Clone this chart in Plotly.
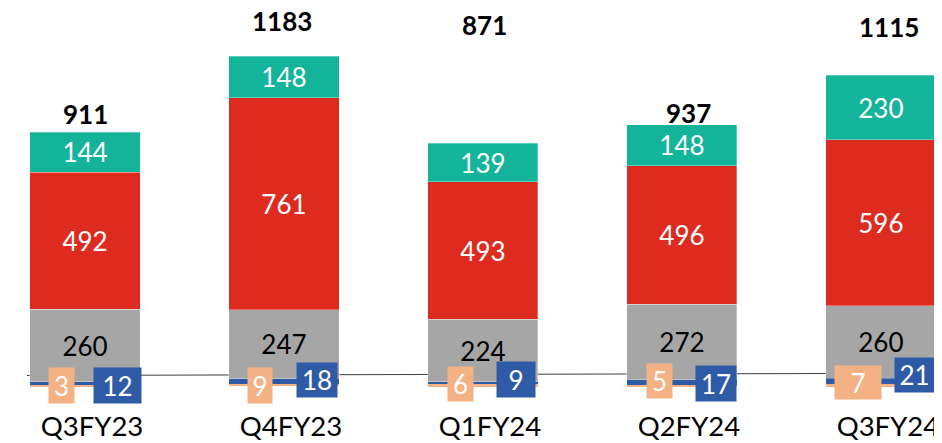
import plotly.graph_objects as go

# ---- data ----
categories = ["Q3FY23", "Q4FY23", "Q1FY24", "Q2FY24", "Q3FY24"]
orange_vals = [3, 9, 6, 5, 7]
blue_vals = [12, 18, 9, 17, 21]
gray_vals = [260, 247, 224, 272, 260]
red_vals = [492, 761, 493, 496, 596]
teal_vals = [144, 148, 139, 148, 230]
total_labels = ["911", "1183", "871", "937", "1115"]

# ---- styling / placement ----
C_ORANGE = "#F4B183"
C_BLUE = "#2E5AA6"
C_GRAY = "#A6A6A6"
C_RED = "#DD2C1F"
C_TEAL = "#14B49B"
FONT = "Lato"
FS = 26

total_label_y = [975, 1310, 1296, 979, 1289]
total_label_xshift = [0, -2, 2, 7, 8]
orange_box_xshift = [-23.5, -23.5, -22, -22, -22.5]
orange_box_yshift = [0.5, 1, 2, 5, 3.5]
orange_box_w = [25, 24, 25, 25, 46]
orange_box_h = [35, 35, 34, 34, 33]
blue_box_xshift = [32.5, 33, 33, 34, 33.5]
blue_box_yshift = [0.5, 6, 6.5, 2.5, 11]
blue_box_w = [47, 40, 38, 40, 39]
blue_box_h = [35, 34, 35, 35, 34]

fig = go.Figure()
line = dict(color="rgba(255,255,255,0.6)", width=0.5)
fig.add_bar(x=categories, y=orange_vals, marker=dict(color=C_ORANGE, line=dict(width=0)), hoverinfo="skip")
fig.add_bar(x=categories, y=blue_vals, marker=dict(color=C_BLUE, line=dict(width=0)), hoverinfo="skip")
fig.add_bar(x=categories, y=gray_vals, marker=dict(color=C_GRAY, line=line),
            text=[str(v) for v in gray_vals], textposition="inside", insidetextanchor="middle",
            textfont=dict(color="black", size=FS, family=FONT), hoverinfo="skip")
fig.add_bar(x=categories, y=red_vals, marker=dict(color=C_RED, line=line),
            text=[str(v) for v in red_vals], textposition="inside", insidetextanchor="middle",
            textfont=dict(color="white", size=FS, family=FONT), hoverinfo="skip")
fig.add_bar(x=categories, y=teal_vals, marker=dict(color=C_TEAL, line=line),
            text=[str(v) for v in teal_vals], textposition="inside", insidetextanchor="middle",
            textfont=dict(color="white", size=FS, family=FONT), hoverinfo="skip")

annotations = []
for i, c in enumerate(categories):
    annotations.append(dict(x=c, y=total_label_y[i], xref="x", yref="y", text="<b>%s</b>" % total_labels[i],
                            showarrow=False, xshift=total_label_xshift[i],
                            font=dict(family=FONT, size=FS, color="black"), yanchor="middle"))
    annotations.append(dict(x=c, y=0, xref="x", yref="y", text=str(orange_vals[i]), showarrow=False,
                            xshift=orange_box_xshift[i], yshift=orange_box_yshift[i],
                            width=orange_box_w[i], height=orange_box_h[i], borderpad=0,
                            bgcolor=C_ORANGE, font=dict(family=FONT, size=FS, color="white"),
                            align="center", valign="middle", yanchor="middle"))
    annotations.append(dict(x=c, y=0, xref="x", yref="y", text=str(blue_vals[i]), showarrow=False,
                            xshift=blue_box_xshift[i], yshift=blue_box_yshift[i],
                            width=blue_box_w[i], height=blue_box_h[i], borderpad=0,
                            bgcolor=C_BLUE, font=dict(family=FONT, size=FS, color="white"),
                            align="center", valign="middle", yanchor="middle"))

# The page places the figure 8px in from the top-left corner, so the figure is
# 8px smaller each way and its ranges start 8px later.
fig.update_layout(
    width=934, height=435,
    margin=dict(l=0, r=0, t=0, b=43),
    barmode="stack",
    bargap=0.447,
    showlegend=False,
    plot_bgcolor="white", paper_bgcolor="white",
    uniformtext=dict(minsize=FS, mode="show"),
    annotations=annotations,
    shapes=[dict(type="line", xref="paper", yref="y", x0=0.0203, x1=1, y0=38, y1=46,
                 line=dict(color="#404040", width=1), layer="below")],
    font=dict(family=FONT, size=FS, color="black"),
)
fig.update_xaxes(range=[-0.387, 4.307], showgrid=False, showline=False, zeroline=False,
                 ticks="", tickfont=dict(family=FONT, size=27.5, color="black"),
                 ticklabelshift=7, ticklabelstandoff=7, automargin=False)
fig.update_yaxes(range=[-50, 1356], visible=False, showgrid=False, zeroline=False)

fig.write_html("out.html")
